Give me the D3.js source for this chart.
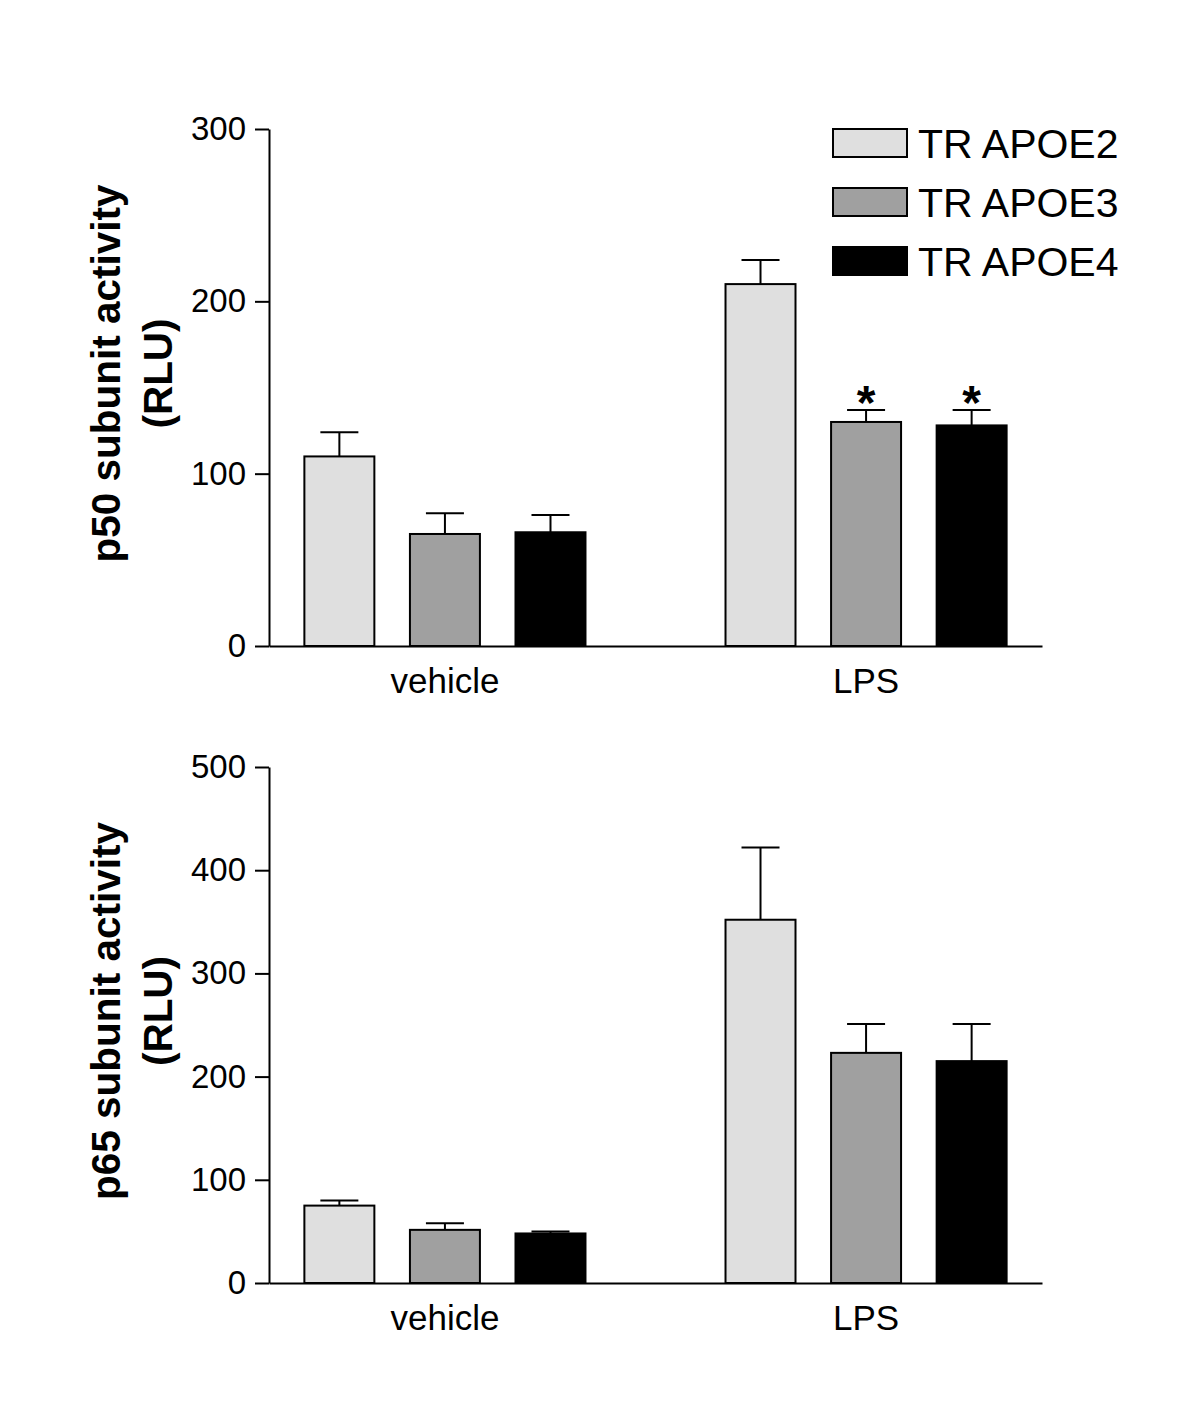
<!DOCTYPE html>
<html>
<head>
<meta charset="utf-8">
<script src="https://cdn.jsdelivr.net/npm/d3@7"></script>
<style>
  body { margin: 0; background: #fff; }
  svg { display: block; font-family: Arial, "Liberation Sans", sans-serif; }
  .axis path, .axis line { stroke: #000; stroke-width: 2px; }
  .axis text { fill: #000; }
</style>
</head>
<body>
<div id="app"></div>
<script>
const WIDTH = 1200;
const HEIGHT = 1405;

const groups = ["vehicle", "LPS"];
const series = ["TR APOE2", "TR APOE3", "TR APOE4"];
const seriesColors = ["#dfdfdf", "#a0a0a0", "#000000"];

// p50 panel, values per group in series order
const p50Means = [[110, 65, 66], [210, 130, 128]];
const p50Errors = [[14, 12, 10], [14, 7, 9]];
const p50Stars = [[false, false, false], [false, true, true]];
const p50Ticks = [0, 100, 200, 300];

// p65 panel
const p65Means = [[75, 51.5, 48], [352, 223, 215]];
const p65Errors = [[5, 6.5, 2], [70, 28, 36]];
const p65Stars = [[false, false, false], [false, false, false]];
const p65Ticks = [0, 100, 200, 300, 400, 500];

const PLOT_LEFT = 269;
const PLOT_RIGHT = 1042;
const CAP_WIDTH = 38;

const svg = d3.select("#app")
  .append("svg")
  .attr("width", WIDTH)
  .attr("height", HEIGHT);

const x0 = d3.scaleBand()
  .domain(groups)
  .range([PLOT_LEFT, PLOT_RIGHT])
  .paddingInner(0.3325)
  .paddingOuter(0.084);

const x1 = d3.scaleBand()
  .domain(series)
  .range([0, x0.bandwidth()])
  .paddingInner(0.337)
  .paddingOuter(0);

function drawPanel(opts) {
  const y = d3.scaleLinear()
    .domain([0, d3.max(opts.ticks)])
    .range([opts.bottom, opts.top]);

  const g = svg.append("g").attr("class", "panel");

  // bars + error bars
  const rows = groups.map((grp, gi) => series.map((s, si) => ({
    group: grp, series: s, si,
    mean: opts.means[gi][si],
    err: opts.errors[gi][si],
    star: opts.stars[gi][si],
  }))).flat();

  const bar = g.selectAll("g.bar")
    .data(rows)
    .join("g")
    .attr("class", "bar")
    .attr("transform", (d) => `translate(${x0(d.group) + x1(d.series)},0)`);

  bar.append("line")
    .attr("x1", x1.bandwidth() / 2)
    .attr("x2", x1.bandwidth() / 2)
    .attr("y1", (d) => y(d.mean))
    .attr("y2", (d) => y(d.mean + d.err))
    .attr("stroke", "#000")
    .attr("stroke-width", 2);

  bar.append("line")
    .attr("x1", x1.bandwidth() / 2 - CAP_WIDTH / 2)
    .attr("x2", x1.bandwidth() / 2 + CAP_WIDTH / 2)
    .attr("y1", (d) => y(d.mean + d.err))
    .attr("y2", (d) => y(d.mean + d.err))
    .attr("stroke", "#000")
    .attr("stroke-width", 2);

  bar.append("rect")
    .attr("x", 0)
    .attr("y", (d) => y(d.mean))
    .attr("width", x1.bandwidth())
    .attr("height", (d) => y(0) - y(d.mean))
    .attr("fill", (d) => seriesColors[d.si])
    .attr("stroke", "#000")
    .attr("stroke-width", 2);

  bar.filter((d) => d.star)
    .append("text")
    .attr("x", x1.bandwidth() / 2)
    .attr("y", (d) => y(d.mean + d.err) + 9)
    .attr("text-anchor", "middle")
    .attr("font-weight", "bold")
    .attr("font-size", 48)
    .text("*");

  // axes
  g.append("g")
    .attr("class", "axis")
    .attr("transform", `translate(${PLOT_LEFT},0)`)
    .call(d3.axisLeft(y).tickValues(opts.ticks).tickSize(14).tickSizeOuter(0).tickPadding(9))
    .call((a) => a.selectAll("text").attr("font-size", 33));

  g.append("g")
    .attr("class", "axis")
    .attr("transform", `translate(0,${opts.bottom})`)
    .call(d3.axisBottom(x0).tickSize(0).tickSizeOuter(0).tickPadding(22))
    .call((a) => a.selectAll("text").attr("font-size", 35));

  // y label
  const label = g.append("g")
    .attr("transform", `translate(120,${(opts.top + opts.bottom) / 2 - 14}) rotate(-90)`)
    .attr("font-weight", "bold")
    .attr("font-size", 40.5)
    .attr("text-anchor", "middle");
  label.append("text").text(opts.label);
  label.append("text").attr("y", 52).text("(RLU)");
}

drawPanel({
  means: p50Means, errors: p50Errors, stars: p50Stars, ticks: p50Ticks,
  top: 129, bottom: 646, label: "p50 subunit activity",
});

drawPanel({
  means: p65Means, errors: p65Errors, stars: p65Stars, ticks: p65Ticks,
  top: 767, bottom: 1283, label: "p65 subunit activity",
});

// legend
const legend = svg.append("g")
  .selectAll("g")
  .data(series)
  .join("g")
  .attr("transform", (d, i) => `translate(833,${129 + i * 59})`);

legend.append("rect")
  .attr("width", 74)
  .attr("height", 28)
  .attr("fill", (d, i) => seriesColors[i])
  .attr("stroke", "#000")
  .attr("stroke-width", 2);

legend.append("text")
  .attr("x", 85)
  .attr("y", 29)
  .attr("font-size", 41)
  .text((d) => d);
</script>
</body>
</html>
